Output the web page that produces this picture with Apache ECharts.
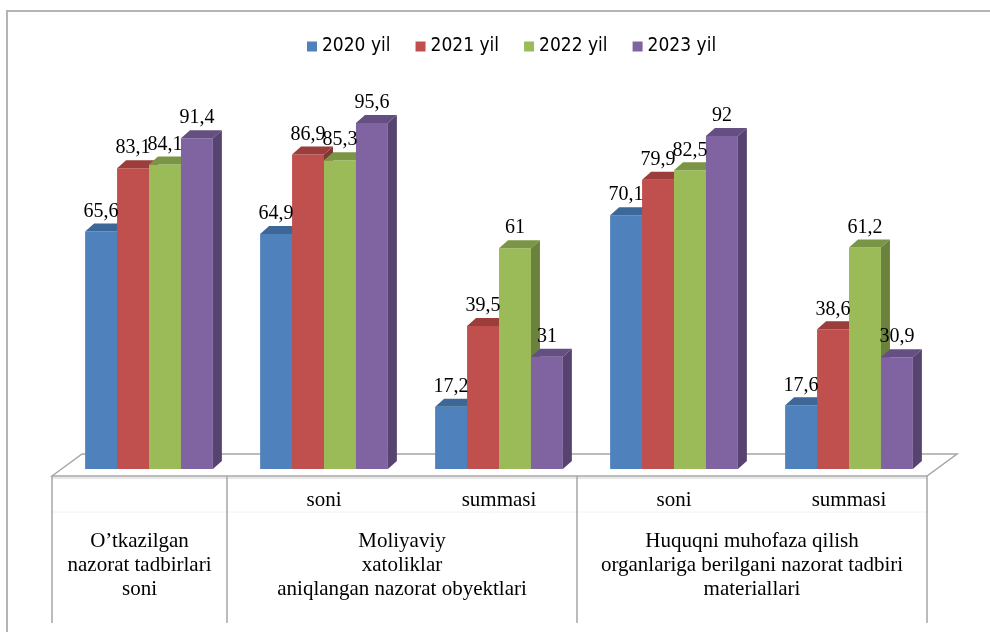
<!DOCTYPE html>
<html><head><meta charset="utf-8">
<script src="https://cdn.jsdelivr.net/npm/echarts@6/dist/echarts.min.js"></script>
<style>html,body{margin:0;padding:0;background:#fff}#c{width:990px;height:632px}</style>
</head><body><div id="c"></div>
<script>
// ---- data ----
const subLabels = ['', 'soni', 'summasi', 'soni', 'summasi'];
const groupNames = [
  'O’tkazilgan\nnazorat tadbirlari\nsoni',
  'Moliyaviy\nxatoliklar\naniqlangan nazorat obyektlari',
  'Huquqni muhofaza qilish\norganlariga berilgani nazorat tadbiri\nmateriallari'
];
const groupSpans = [1, 2, 2];
const seriesNames = ['2020 yil', '2021 yil', '2022 yil', '2023 yil'];
const v2020 = [65.6, 64.9, 17.2, 70.1, 17.6];
const v2021 = [83.1, 86.9, 39.5, 79.9, 38.6];
const v2022 = [84.1, 85.3, 61, 82.5, 61.2];
const v2023 = [91.4, 95.6, 31, 92, 30.9];
const seriesValues = [v2020, v2021, v2022, v2023];

// ---- styles ----
const colors = ['#4F81BD', '#C0504D', '#9BBB59', '#8064A2'];
const topColors = ['#3D6796', '#9A3D3B', '#7A9545', '#654F82'];
const sideColors = ['#345A85', '#843432', '#6A823B', '#56436F'];
const serif = '"Liberation Serif","Times New Roman",serif';
const DX = 9, DY = 8;
const BAR_FRAC = 0.73;

const chart = echarts.init(document.getElementById('c'));
const GRID = {left: 61.5, right: 53.5, top: 107, bottom: 163};

function makeRender(s) {
  return function (params, api) {
    const cat = api.value(0), val = api.value(1);
    const base = api.coord([cat, 0]);
    const top = api.coord([cat, val]);
    const catW = api.size([1, 0])[0];
    const bw = catW * BAR_FRAC / 4;
    const x0 = base[0] - 2 * bw + s * bw;
    const ty = top[1], by = base[1];
    return {
      type: 'group',
      children: [
        {type: 'rect', shape: {x: x0, y: ty, width: bw, height: by - ty},
         style: {fill: colors[s]}},
        {type: 'polygon', shape: {points: [[x0, ty], [x0 + DX, ty - DY], [x0 + bw + DX, ty - DY], [x0 + bw, ty]]},
         style: {fill: topColors[s]}},
        {type: 'polygon', shape: {points: [[x0 + bw, ty], [x0 + bw + DX, ty - DY], [x0 + bw + DX, by - DY], [x0 + bw, by]]},
         style: {fill: sideColors[s]}},
        {type: 'text', z2: 10, style: {text: String(val).replace('.', ','), x: x0 + bw / 2, y: ty - 20,
          align: 'center', verticalAlign: 'middle', fill: '#000', font: '20px ' + serif}}
      ]
    };
  };
}

const series = seriesNames.map((name, s) => ({
  type: 'custom', name: name,
  itemStyle: {color: colors[s]},
  renderItem: makeRender(s),
  encode: {x: 0, y: 1},
  data: seriesValues[s].map((v, i) => [i, v]),
  z: 3
}));

chart.setOption({
  animation: false,
  grid: GRID,
  legend: {
    data: seriesNames, top: 32, left: 302, icon: 'rect', itemWidth: 10, itemHeight: 10, itemGap: 25,
    textStyle: {fontFamily: '"Liberation Sans Narrow","DejaVu Sans Condensed",sans-serif', fontSize: 19, color: '#000'}
  },
  xAxis: {
    type: 'category', data: subLabels,
    axisLine: {show: false}, axisTick: {show: false},
    axisLabel: {fontFamily: serif, fontSize: 21, color: '#000', margin: 21, interval: 0}
  },
  yAxis: {type: 'value', min: 0, max: 100, show: false, splitLine: {show: false}},
  series: series
});

// ---- floor, table and frame built from the axis scales ----
const y0 = chart.convertToPixel({yAxisIndex: 0}, 0);
const c0 = chart.convertToPixel({xAxisIndex: 0}, 0);
const c1 = chart.convertToPixel({xAxisIndex: 0}, 1);
const catW = c1 - c0;
const gridL = c0 - catW / 2;
const frontL = gridL - 9.5, frontY = y0 + 7;
const backL = frontL + 30, backY = frontY - 22;
const frontR = frontL + catW * subLabels.length;
const backR = frontR + 30;
const tableBottom = 623;
const lineStyle = {stroke: '#A6A6A6', lineWidth: 1.5};

const graphics = [
  {type: 'rect', z: -10, shape: {x: 7, y: 11, width: 1200, height: 800}, style: {fill: 'none', stroke: '#B4B4B4', lineWidth: 2}},
  {type: 'polygon', z: 0, shape: {points: [[frontL, frontY], [backL, backY], [backR, backY], [frontR, frontY]]},
   style: {fill: '#fff', stroke: '#A6A6A6', lineWidth: 1.5}},
  {type: 'line', z: 0, shape: {x1: frontL, y1: frontY + 2, x2: frontR, y2: frontY + 2}, style: {stroke: '#D0D0D0', lineWidth: 1}},
  {type: 'line', z: 0, shape: {x1: frontL, y1: 512, x2: frontR, y2: 512}, style: {stroke: '#F2F2F2', lineWidth: 1}}
];
let cum = 0;
const bounds = [frontL];
groupSpans.forEach(sp => { cum += sp; bounds.push(frontL + cum * catW); });
bounds.forEach(x => {
  graphics.push({type: 'line', z: 0, shape: {x1: x, y1: frontY, x2: x, y2: tableBottom}, style: lineStyle});
});
groupNames.forEach((g, i) => {
  const cx = (bounds[i] + bounds[i + 1]) / 2;
  graphics.push({type: 'text', z: 5, style: {text: g, x: cx, y: 529, align: 'center', verticalAlign: 'top',
    font: '21px ' + serif, lineHeight: 24, fill: '#000'}});
});
chart.setOption({graphic: graphics});
</script></body></html>
